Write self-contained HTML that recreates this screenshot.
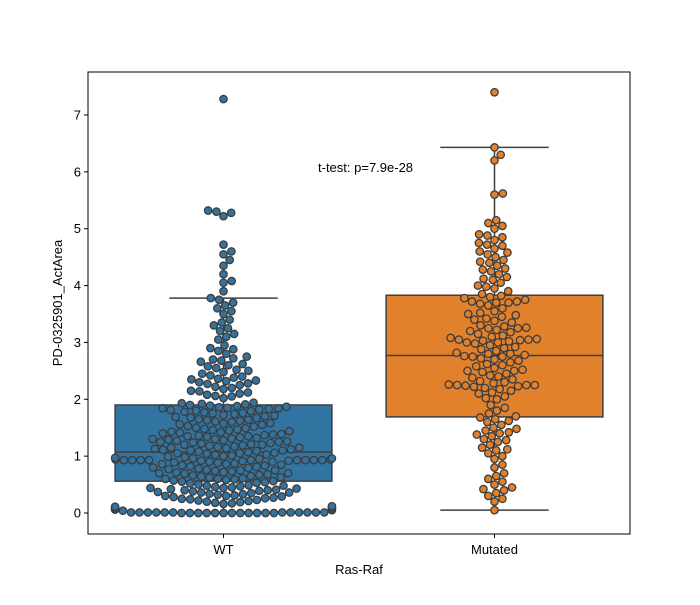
<!DOCTYPE html>
<html><head><meta charset="utf-8"><style>
body{margin:0;background:#fff}
svg text{font-family:"Liberation Sans",sans-serif;font-size:13px;fill:#000}
</style></head><body>
<svg id="chart" width="700" height="600">
</svg>
<script>
const categories=["WT","Mutated"];
const boxQ1=[0.56,1.69];
const boxMedian=[1.07,2.77];
const boxQ3=[1.9,3.83];
const whiskerLow=[0,0.05];
const whiskerHigh=[3.78,6.43];
const yTicks=[0,1,2,3,4,5,6,7];
const annotation="t-test: p=7.9e-28";
const wtValues=[0,0,0,0,0,0,0,0,0,0,0,0,0.01,0.01,0.01,0.01,0.01,0.01,0.01,0.01,0.01,0.01,0.01,0.01,
0.05,0.06,0.08,0.1,0.11,0.12,0.04,0.07,
0.16,0.18,0.2,0.22,0.25,0.27,0.28,0.3,0.17,0.21,0.24,0.26,0.19,0.23,0.29,0.3,
0.32,0.34,0.36,0.38,0.4,0.42,0.44,0.46,0.48,0.5,0.33,0.37,0.41,0.45,0.49,0.35,0.39,0.43,0.47,0.31,0.36,0.4,0.44,0.48,
0.52,0.55,0.58,0.6,0.62,0.65,0.68,0.7,0.72,0.75,0.78,0.8,0.53,0.57,0.61,0.64,0.67,0.71,0.74,0.77,0.54,0.59,0.63,0.66,0.69,0.73,0.76,0.79,0.56,0.6,0.7,0.75,
0.82,0.84,0.86,0.88,0.9,0.92,0.93,0.93,0.93,0.94,0.95,0.96,0.98,0.81,0.85,0.87,0.89,0.91,0.93,0.93,0.97,0.99,0.83,0.86,0.9,0.92,0.94,0.96,0.93,0.93,0.93,0.93,
1.0,1.02,1.04,1.05,1.06,1.08,1.1,1.12,1.14,1.16,1.18,1.2,1.22,1.24,1.26,1.28,1.3,1.32,1.34,1.36,1.38,1.4,1.42,1.44,1.46,1.48,1.5,1.01,1.03,1.07,1.09,1.11,1.13,1.15,1.17,1.19,1.21,1.23,1.25,1.27,1.29,1.31,1.33,1.35,1.37,1.39,1.41,1.43,1.45,1.47,1.49,1.05,1.1,1.15,1.2,1.25,1.3,1.35,
1.52,1.55,1.58,1.6,1.62,1.65,1.68,1.7,1.72,1.75,1.78,1.8,1.82,1.84,1.86,1.88,1.9,1.92,1.94,1.53,1.57,1.61,1.64,1.67,1.71,1.74,1.77,1.81,1.83,1.85,1.87,1.89,1.91,1.93,1.56,1.63,1.69,1.76,1.79,1.84,
2.02,2.05,2.08,2.1,2.12,2.15,2.18,2.2,2.22,2.25,2.28,2.3,2.32,2.35,2.38,2.4,2.42,2.45,2.48,2.5,2.06,2.14,2.27,2.36,2.33,
2.52,2.55,2.58,2.62,2.66,2.7,2.72,2.75,2.8,2.85,2.9,2.95,2.6,2.68,2.88,
3.05,3.1,3.15,3.2,3.25,3.3,3.35,3.4,3.5,3.55,3.6,3.65,3.7,3.75,3.78,
3.9,4.05,4.08,4.2,4.35,4.45,4.55,4.6,4.72,5.22,5.3,5.32,5.28,7.28];
const mutValues=[0.05,0.2,0.25,0.3,0.35,0.4,0.42,0.45,0.5,0.55,0.6,0.65,0.7,0.8,0.85,0.95,1.0,1.05,1.1,1.12,1.15,1.2,1.25,1.3,1.35,1.4,1.42,1.45,1.5,1.55,1.6,1.65,1.7,1.75,1.8,1.85,1.9,1.68,1.62,1.38,1.48,1.28,
2.0,2.05,2.1,2.15,2.2,2.22,2.25,2.25,2.25,2.28,2.3,2.35,2.4,2.45,2.5,2.55,2.6,2.62,2.65,2.7,2.72,2.75,2.78,2.8,2.82,2.85,2.9,2.95,3.0,3.02,3.05,3.05,3.08,3.1,3.15,3.2,3.22,3.25,3.28,3.3,3.35,3.4,3.45,3.5,3.55,3.6,3.65,3.68,3.7,3.72,3.75,3.78,3.8,3.82,3.85,3.9,3.95,2.48,2.52,2.58,2.68,2.88,2.92,2.98,3.12,3.18,2.02,2.12,2.18,2.32,2.38,2.42,3.38,3.42,3.48,3.52,
2.24,2.26,2.5,2.75,2.76,3.03,3.04,3.06,3.25,3.26,3.7,3.72,2.23,2.8,3.0,
4.0,4.05,4.1,4.15,4.2,4.25,4.3,4.35,4.4,4.45,4.5,4.55,4.6,4.65,4.7,4.75,4.8,4.85,4.9,5.0,5.05,5.1,5.15,4.12,4.28,4.42,4.58,4.72,4.88,3.98,5.6,5.62,6.2,6.3,6.43,7.4];
const outliers=[[7.28],[7.4]];

const svg=document.getElementById('chart');
const NS='http://www.w3.org/2000/svg';
const L=88,R=630,T=72,B=534;
const y=v=>513-v*(513-115)/7;
const band=(R-L)/categories.length;
const xc=i=>L+band*(i+0.5);
const bw=band*0.8;
const colors=["#3274a1","#e1812c"];
function mk(tag,attrs,parent){const e=document.createElementNS(NS,tag);for(const k in attrs)e.setAttribute(k,attrs[k]);(parent||svg).appendChild(e);return e;}

categories.forEach((c,i)=>{
  const g=mk('g',{});
  
  
  const cx=xc(i);
  mk('line',{x1:cx,x2:cx,y1:y(boxQ3[i]),y2:y(whiskerHigh[i]),stroke:'#3f3f3f','stroke-width':1.5},g);
  mk('line',{x1:cx,x2:cx,y1:y(boxQ1[i]),y2:y(whiskerLow[i]),stroke:'#3f3f3f','stroke-width':1.5},g);
  mk('line',{x1:cx-bw/4,x2:cx+bw/4,y1:y(whiskerHigh[i]),y2:y(whiskerHigh[i]),stroke:'#3f3f3f','stroke-width':1.5},g);
  mk('line',{x1:cx-bw/4,x2:cx+bw/4,y1:y(whiskerLow[i]),y2:y(whiskerLow[i]),stroke:'#3f3f3f','stroke-width':1.5},g);
  mk('rect',{x:cx-bw/2,y:y(boxQ3[i]),width:bw,height:y(boxQ1[i])-y(boxQ3[i]),fill:colors[i],stroke:'#3f3f3f','stroke-width':1.5},g);
  mk('line',{x1:cx-bw/2,x2:cx+bw/2,y1:y(boxMedian[i]),y2:y(boxMedian[i]),stroke:'#3f3f3f','stroke-width':1.5},g);
  outliers[i].forEach(v=>{const p=mk('path',{d:`M${cx},${y(v)-4}L${cx+4},${y(v)}L${cx},${y(v)+4}L${cx-4},${y(v)}Z`,fill:'#3f3f3f'},g);
    });
});

function swarm(vals,cx,half,color,name){
  const d=8.4, r=3.7;
  const pts=vals.map(v=>({py:y(v)})).sort((a,b)=>b.py-a.py);
  const placed=[];
  pts.forEach(p=>{
    const near=placed.filter(q=>Math.abs(q.py-p.py)<d);
    const cands=[0];
    near.forEach(q=>{const dx=Math.sqrt(d*d-(q.py-p.py)**2);cands.push(q.off+dx,q.off-dx);});
    cands.sort((a,b)=>Math.abs(a)-Math.abs(b));
    let off=0;
    for(const c of cands){if(near.every(q=>(q.off-c)**2+(q.py-p.py)**2>=d*d-0.01)){off=c;break;}}
    p.off=Math.max(-half,Math.min(half,off));placed.push(p);
  });
  const g=mk('g',{});
  
  
  placed.forEach(p=>{const c=mk('circle',{cx:cx+p.off,cy:p.py,r:r,fill:color,stroke:'#3d3d3d','stroke-width':1.3},g);
    });
}
swarm(wtValues,xc(0),bw/2,colors[0],'wt-swarm');
swarm(mutValues,xc(1),bw/2,colors[1],'mutated-swarm');

const frame=mk('rect',{x:L,y:T,width:R-L,height:B-T,fill:'none',stroke:'#000','stroke-width':1});

yTicks.forEach(t=>{
  mk('line',{x1:L-4,x2:L,y1:y(t),y2:y(t),stroke:'#000'});
  const tx=mk('text',{x:L-7,y:y(t)+4.5,'text-anchor':'end'});tx.textContent=t;
  
});
categories.forEach((c,i)=>{
  mk('line',{x1:xc(i),x2:xc(i),y1:B,y2:B+4,stroke:'#000'});
  const tx=mk('text',{x:xc(i),y:B+20,'text-anchor':'middle'});tx.textContent=c;
  
});
const xt=mk('text',{x:(L+R)/2,y:574,'text-anchor':'middle'});xt.textContent='Ras-Raf';

const yt=mk('text',{x:0,y:0,'text-anchor':'middle',transform:`translate(62,${(T+B)/2}) rotate(-90)`});yt.textContent='PD-0325901_ActArea';

const an=mk('text',{x:318,y:172});an.textContent=annotation;

</script>
</body></html>
